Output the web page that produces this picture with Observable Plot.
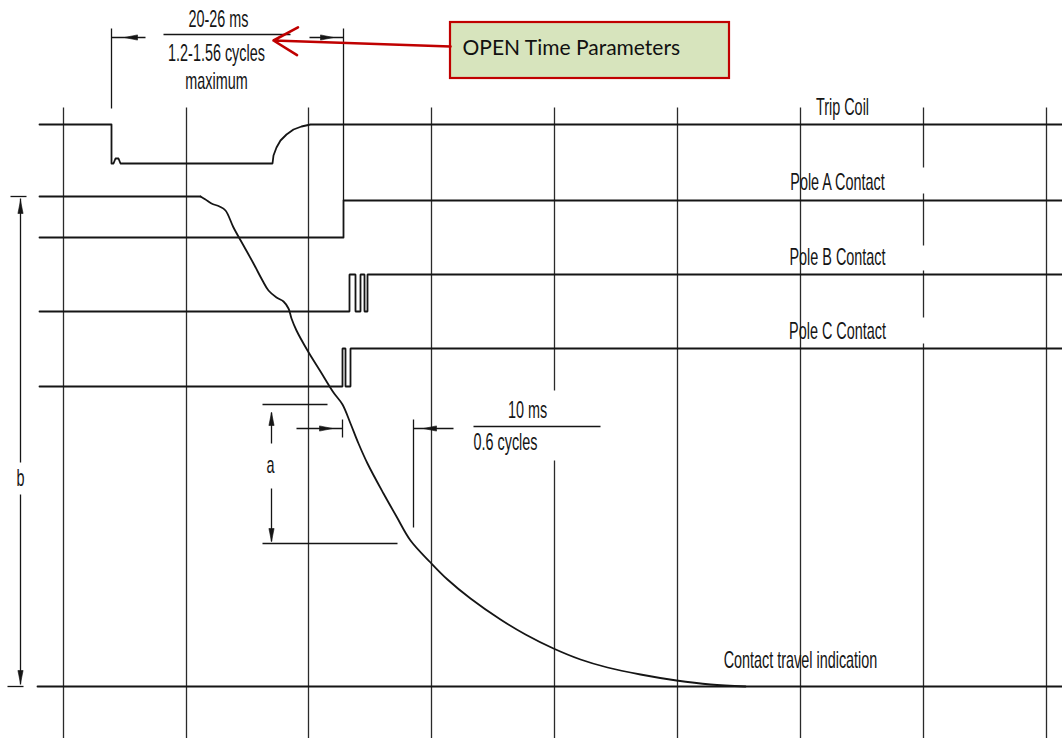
<!DOCTYPE html>
<html>
<head>
<meta charset="utf-8">
<script src="https://cdn.jsdelivr.net/npm/d3@7"></script>
<script src="https://cdn.jsdelivr.net/npm/@observablehq/plot@0.6"></script>
<style>
  html, body { margin: 0; padding: 0; background: #ffffff; }
  #chart { width: 1062px; height: 738px; overflow: hidden; }
</style>
</head>
<body>
<div id="chart"></div>
<script>
// Drawing frame (schematic units)
const frameX = [0, 1062];
const frameY = [0, 738];

// Vertical time grid
const gridX = [63, 186, 308, 431, 554, 677, 800, 923, 1046];
const gridSpan = [107, 738];
const gridBreaks = [
  {x: 554, from: 390, to: 460},
  {x: 923, from: 167, to: 193},
  {x: 923, from: 245, to: 270},
  {x: 923, from: 317, to: 343}
];

// Traces [x, y]
const tripCoil = [[39,124],[111,124],[111,163],[113,163],[115,158],[118,158],[120,163],[272,163],[273,155],[276,147],[280,140],[286,134],[293,129],[301,126],[310,124],[1062,124]];
const poleA = [[39,237],[343,237],[343,200],[1062,200]];
const poleB = [[39,311],[349,311],[349,274],[355,274],[355,311],[360,311],[360,274],[364,274],[364,311],[367,311],[367,274],[1062,274]];
const poleC = [[39,386],[342,386],[342,348],[345,348],[345,386],[350,386],[350,348],[1062,348]];
const travelFlat = [[39,196],[200,196]];
const travel = [[200,196],[205,199],[211,203],[219,206],[225,210],[233,227],[243,245],[253,263],[262,280],[268,290],[276,297],[283,301],[288,308],[291,318],[296,330],[307,350],[320,371],[333,392],[342,404],[350,423],[358,443],[367,463],[383,493],[396,516],[410,540],[430,562],[447,579],[470,598],[500,619],[525,634],[553,648],[580,659],[607,667],[640,674],[676,680],[710,684],[745,686]];
const baseline = [[37,686],[1062,686]];

// Dimension lines
const dimLines = [
  {x1:111,y1:28,x2:111,y2:108},
  {x1:343,y1:28,x2:343,y2:200},
  {x1:111,y1:37,x2:145,y2:37},
  {x1:309,y1:37,x2:343,y2:37},
  {x1:163,y1:34,x2:290,y2:34},
  {x1:10,y1:196,x2:26,y2:196},
  {x1:7,y1:686,x2:23,y2:686},
  {x1:20,y1:198,x2:20,y2:462},
  {x1:20,y1:494,x2:20,y2:684},
  {x1:262,y1:404,x2:327,y2:404},
  {x1:262,y1:543,x2:397,y2:543},
  {x1:271,y1:412,x2:271,y2:443},
  {x1:271,y1:488,x2:271,y2:541},
  {x1:296,y1:428,x2:342,y2:428},
  {x1:342,y1:419,x2:342,y2:437},
  {x1:413,y1:419,x2:413,y2:527},
  {x1:413,y1:428,x2:453,y2:428},
  {x1:473,y1:426,x2:600,y2:426}
];
const arrowHeads = [
  {x:124, y:37, dir:"left"},
  {x:333, y:37, dir:"right"},
  {x:20, y:200, dir:"up"},
  {x:20, y:683, dir:"down"},
  {x:271, y:412, dir:"up"},
  {x:271, y:541, dir:"down"},
  {x:332, y:428, dir:"right"},
  {x:423, y:428, dir:"left"}
];

// Labels
const labelsMid = [
  {text:"20-26 ms", x:218, y:19},
  {text:"1.2-1.56 cycles", x:216, y:53},
  {text:"maximum", x:216, y:81},
  {text:"Trip Coil", x:842, y:107},
  {text:"Pole A Contact", x:837, y:182},
  {text:"Pole B Contact", x:837, y:257},
  {text:"Pole C Contact", x:837, y:331},
  {text:"Contact travel indication", x:800, y:660},
  {text:"b", x:20, y:478},
  {text:"a", x:270, y:465},
  {text:"10 ms", x:527, y:410}
];
const labelsStart = [
  {text:"0.6 cycles", x:473, y:442}
];

// Callout
const calloutBox = [{x1:450, y1:22, x2:729, y2:78}];
const calloutText = [{text:"OPEN Time Parameters", x:462, y:48}];
const calloutArrow = [{x1:450, y1:46, x2:273, y2:40}];

// ---- build ----
const gridSegments = [];
for (const x of gridX) {
  const br = gridBreaks.filter(b => b.x === x).sort((a, b) => a.from - b.from);
  let start = gridSpan[0];
  for (const b of br) { gridSegments.push({x, y1: start, y2: b.from}); start = b.to; }
  gridSegments.push({x, y1: start, y2: gridSpan[1]});
}

const L = 13, W = 2.6;
const headSymbol = {
  up:    {draw(c){ c.moveTo(0,0); c.lineTo(-W, L); c.lineTo(W, L); c.closePath(); }},
  down:  {draw(c){ c.moveTo(0,0); c.lineTo(-W,-L); c.lineTo(W,-L); c.closePath(); }},
  left:  {draw(c){ c.moveTo(0,0); c.lineTo(L,-W); c.lineTo(L, W); c.closePath(); }},
  right: {draw(c){ c.moveTo(0,0); c.lineTo(-L,-W); c.lineTo(-L, W); c.closePath(); }}
};

const ink = "#151515";
const traceOpts = {x: d => d[0], y: d => d[1], stroke: ink, strokeWidth: 1.8, strokeLinejoin: "round"};
const cadFont = {fontFamily: "Liberation Sans, Arial, sans-serif", fontSize: 24, fill: ink};
const condense = 0.6;

const chart = Plot.plot({
  width: 1062,
  height: 738,
  margin: 0,
  x: {domain: frameX, range: [0, 1062], axis: null},
  y: {domain: frameY, range: [0, 738], axis: null},
  style: {background: "#ffffff"},
  marks: [
    Plot.link(gridSegments, {x1: "x", x2: "x", y1: "y1", y2: "y2", stroke: "#2a2a2a", strokeWidth: 1.3}),
    Plot.line(baseline, traceOpts),
    Plot.line(tripCoil, traceOpts),
    Plot.line(poleA, traceOpts),
    Plot.line(poleB, {...traceOpts, strokeLinejoin: "miter"}),
    Plot.line(poleC, {...traceOpts, strokeLinejoin: "miter"}),
    Plot.line(travelFlat, traceOpts),
    Plot.line(travel, {...traceOpts, curve: "catmull-rom"}),
    Plot.link(dimLines, {x1: "x1", y1: "y1", x2: "x2", y2: "y2", stroke: ink, strokeWidth: 1.3}),
    ...["up","down","left","right"].map(dir =>
      Plot.dot(arrowHeads.filter(d => d.dir === dir), {x: "x", y: "y", symbol: headSymbol[dir], fill: ink, stroke: ink, strokeWidth: 0.6})
    ),
    Plot.text(labelsMid, {x: "x", y: "y", text: "text", textAnchor: "middle", ...cadFont}),
    Plot.text(labelsStart, {x: "x", y: "y", text: "text", textAnchor: "start", ...cadFont}),
    Plot.rect(calloutBox, {x1: "x1", x2: "x2", y1: "y1", y2: "y2", fill: "#d7e4bd", stroke: "#c00000", strokeWidth: 2.2}),
    Plot.text(calloutText, {x: "x", y: "y", text: "text", textAnchor: "start", fontFamily: "Lato, 'Open Sans', sans-serif", fontSize: 21, fill: "#111111"}),
    Plot.arrow(calloutArrow, {x1: "x1", y1: "y1", x2: "x2", y2: "y2", stroke: "#c00000", strokeWidth: 2.6, headLength: 16})
  ]
});

// condensed technical lettering for the drawing labels
const cadStrings = new Set([...labelsMid, ...labelsStart].map(d => d.text));
chart.querySelectorAll("text").forEach(t => {
  if (!cadStrings.has(t.textContent)) return;
  let tr = t.getAttribute("transform");
  if (tr && /translate/.test(tr)) {
    t.setAttribute("transform", tr + ` scale(${condense},1)`);
  } else {
    const x = +(t.getAttribute("x") || 0), y = +(t.getAttribute("y") || 0);
    t.removeAttribute("x"); t.removeAttribute("y");
    t.setAttribute("transform", `translate(${x},${y}) scale(${condense},1)`);
  }
});

document.getElementById("chart").appendChild(chart);
</script>
</body>
</html>
